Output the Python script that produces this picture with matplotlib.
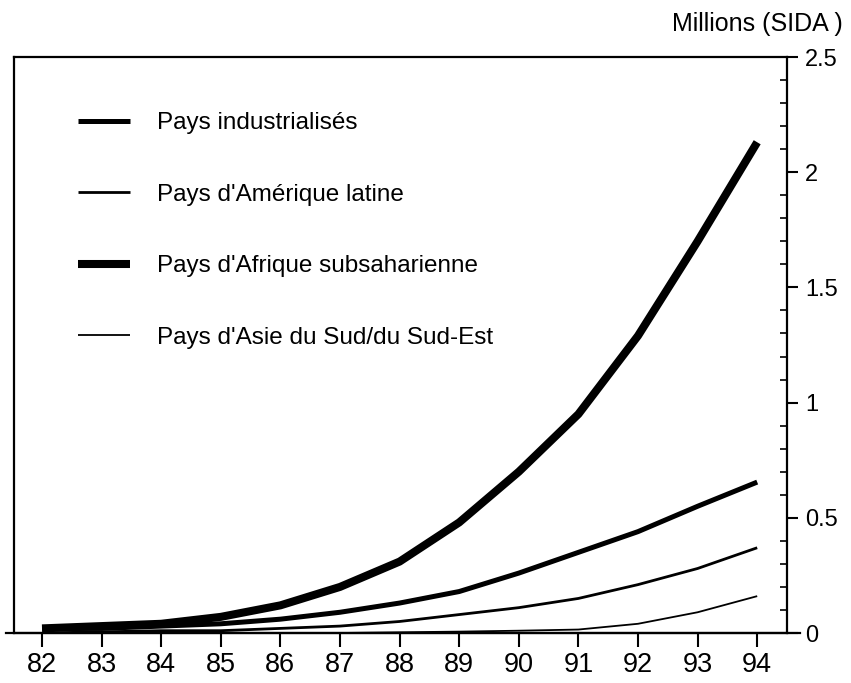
import matplotlib.pyplot as plt
import numpy as np

plt.rcParams['font.family'] = ['Liberation Sans', 'DejaVu Sans']

annees = np.arange(82, 95)
labels_x = [str(a) for a in annees]

# millions de cas (SIDA)
afrique = [0.02, 0.03, 0.04, 0.07, 0.12, 0.20, 0.31, 0.48, 0.70, 0.95, 1.29, 1.70, 2.13]
industrialises = [0.02, 0.02, 0.03, 0.04, 0.06, 0.09, 0.13, 0.18, 0.26, 0.35, 0.44, 0.55, 0.655]
amerique = [0.0, 0.005, 0.01, 0.01, 0.02, 0.03, 0.05, 0.08, 0.11, 0.15, 0.21, 0.28, 0.37]
asie = [0.0, 0.0, 0.0, 0.0, 0.0, 0.0, 0.003, 0.006, 0.01, 0.015, 0.04, 0.09, 0.16]

fig = plt.figure(figsize=(8.51, 6.83), dpi=100)
ax = fig.add_axes([14/851, 1-633/683, (787-14)/851, (633-57)/683])

l1, = ax.plot(annees, industrialises, color='black', lw=3.6, solid_capstyle='butt')
l2, = ax.plot(annees, amerique, color='black', lw=2.0, solid_capstyle='butt')
l3, = ax.plot(annees, afrique, color='black', lw=5.8, solid_capstyle='butt')
l4, = ax.plot(annees, asie, color='black', lw=1.3, solid_capstyle='butt')

ax.set_xlim(81.53, 94.5)
ax.set_ylim(0, 2.5)

ax.set_xticks(annees)
ax.set_xticklabels(labels_x)
ax.yaxis.tick_right()
ax.set_yticks([0, 0.5, 1, 1.5, 2, 2.5])
ax.set_yticklabels(['0', '0.5', '1', '1.5', '2', '2.5'])
ax.set_yticks(np.arange(0, 2.51, 0.1), minor=True)
ax.tick_params(axis='x', direction='out', length=10, width=1.5, labelsize=19.5, pad=4)
ax.tick_params(axis='y', which='major', direction='out', length=8, width=1.5,
               labelsize=17, pad=5)
ax.tick_params(axis='y', which='minor', direction='in', length=5, width=1.2)
for s in ax.spines.values():
    s.set_linewidth(1.6)

# ligne de base prolongée
ax.axhline(0, xmin=-0.01, xmax=1.017, color='black', lw=1.6, clip_on=False)

ax.legend([l1, l2, l3, l4],
          ['Pays industrialisés', "Pays d'Amérique latine",
           "Pays d'Afrique subsaharienne", "Pays d'Asie du Sud/du Sud-Est"],
          loc='upper left', bbox_to_anchor=(0.0828, 0.9045), frameon=False,
          borderaxespad=0, borderpad=0,
          fontsize=17.5, handlelength=2.14, handletextpad=1.1, labelspacing=2.04)

fig.text(843/851, 1-24/683, 'Millions (SIDA )', ha='right', va='center', fontsize=18)

fig.savefig('out.png', dpi=100)
